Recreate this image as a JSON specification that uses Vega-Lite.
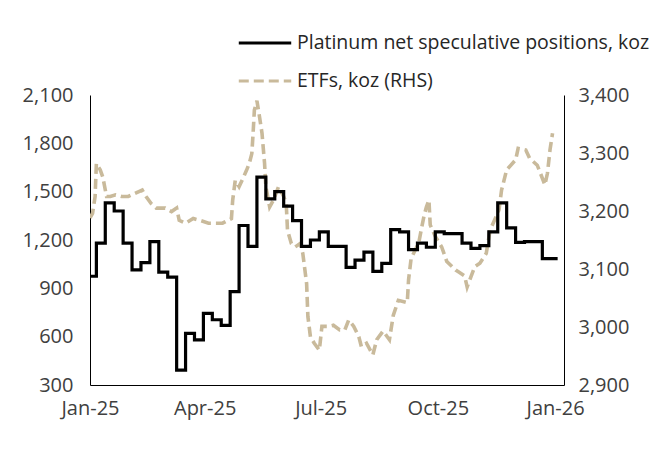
{
  "$schema": "https://vega.github.io/schema/vega-lite/v6.json",
  "width": 474,
  "height": 290,
  "autosize": {"type": "none"},
  "padding": {"left": 90, "top": 95, "right": 100, "bottom": 69},
  "background": "white",
  "config": {
    "view": {"stroke": null},
    "font": "Open Sans",
    "axis": {
      "grid": false,
      "ticks": false,
      "domainColor": "#000000",
      "domainWidth": 1,
      "labelFont": "Open Sans",
      "labelFontSize": 20,
      "labelColor": "#404040",
      "title": null
    },
    "legend": {
      "orient": "none",
      "legendX": 147,
      "legendY": -80,
      "title": null,
      "symbolType": "stroke",
      "symbolSize": 2750,
      "symbolStrokeWidth": 3.2,
      "labelFont": "Open Sans",
      "labelFontSize": 19.5,
      "labelColor": "#262626",
      "labelLimit": 500,
      "labelOffset": 4,
      "rowPadding": -1,
      "padding": 0
    }
  },
  "datasets": {
    "spec": [
      {"date": "2025-01-01T00:00:00", "series": "Platinum net speculative positions, koz", "koz": 975},
      {"date": "2025-01-06T00:00:00", "series": "Platinum net speculative positions, koz", "koz": 1180},
      {"date": "2025-01-13T00:00:00", "series": "Platinum net speculative positions, koz", "koz": 1430},
      {"date": "2025-01-20T00:00:00", "series": "Platinum net speculative positions, koz", "koz": 1380},
      {"date": "2025-01-27T00:00:00", "series": "Platinum net speculative positions, koz", "koz": 1180},
      {"date": "2025-02-03T00:00:00", "series": "Platinum net speculative positions, koz", "koz": 1015},
      {"date": "2025-02-10T00:00:00", "series": "Platinum net speculative positions, koz", "koz": 1060},
      {"date": "2025-02-17T00:00:00", "series": "Platinum net speculative positions, koz", "koz": 1190},
      {"date": "2025-02-24T00:00:00", "series": "Platinum net speculative positions, koz", "koz": 1000},
      {"date": "2025-03-03T00:00:00", "series": "Platinum net speculative positions, koz", "koz": 970},
      {"date": "2025-03-10T00:00:00", "series": "Platinum net speculative positions, koz", "koz": 392},
      {"date": "2025-03-17T00:00:00", "series": "Platinum net speculative positions, koz", "koz": 620},
      {"date": "2025-03-24T00:00:00", "series": "Platinum net speculative positions, koz", "koz": 580},
      {"date": "2025-03-31T00:00:00", "series": "Platinum net speculative positions, koz", "koz": 745},
      {"date": "2025-04-07T00:00:00", "series": "Platinum net speculative positions, koz", "koz": 705},
      {"date": "2025-04-14T00:00:00", "series": "Platinum net speculative positions, koz", "koz": 670},
      {"date": "2025-04-21T00:00:00", "series": "Platinum net speculative positions, koz", "koz": 880},
      {"date": "2025-04-28T00:00:00", "series": "Platinum net speculative positions, koz", "koz": 1290},
      {"date": "2025-05-05T00:00:00", "series": "Platinum net speculative positions, koz", "koz": 1160},
      {"date": "2025-05-12T00:00:00", "series": "Platinum net speculative positions, koz", "koz": 1590},
      {"date": "2025-05-19T00:00:00", "series": "Platinum net speculative positions, koz", "koz": 1455},
      {"date": "2025-05-26T00:00:00", "series": "Platinum net speculative positions, koz", "koz": 1500},
      {"date": "2025-06-02T00:00:00", "series": "Platinum net speculative positions, koz", "koz": 1410},
      {"date": "2025-06-09T00:00:00", "series": "Platinum net speculative positions, koz", "koz": 1320},
      {"date": "2025-06-16T00:00:00", "series": "Platinum net speculative positions, koz", "koz": 1160},
      {"date": "2025-06-23T00:00:00", "series": "Platinum net speculative positions, koz", "koz": 1200},
      {"date": "2025-06-30T00:00:00", "series": "Platinum net speculative positions, koz", "koz": 1250},
      {"date": "2025-07-07T00:00:00", "series": "Platinum net speculative positions, koz", "koz": 1160},
      {"date": "2025-07-14T00:00:00", "series": "Platinum net speculative positions, koz", "koz": 1160},
      {"date": "2025-07-21T00:00:00", "series": "Platinum net speculative positions, koz", "koz": 1030},
      {"date": "2025-07-28T00:00:00", "series": "Platinum net speculative positions, koz", "koz": 1075},
      {"date": "2025-08-04T00:00:00", "series": "Platinum net speculative positions, koz", "koz": 1125},
      {"date": "2025-08-11T00:00:00", "series": "Platinum net speculative positions, koz", "koz": 1005},
      {"date": "2025-08-18T00:00:00", "series": "Platinum net speculative positions, koz", "koz": 1055},
      {"date": "2025-08-25T00:00:00", "series": "Platinum net speculative positions, koz", "koz": 1265},
      {"date": "2025-09-01T00:00:00", "series": "Platinum net speculative positions, koz", "koz": 1250},
      {"date": "2025-09-08T00:00:00", "series": "Platinum net speculative positions, koz", "koz": 1140},
      {"date": "2025-09-15T00:00:00", "series": "Platinum net speculative positions, koz", "koz": 1180},
      {"date": "2025-09-22T00:00:00", "series": "Platinum net speculative positions, koz", "koz": 1155},
      {"date": "2025-09-29T00:00:00", "series": "Platinum net speculative positions, koz", "koz": 1250},
      {"date": "2025-10-06T00:00:00", "series": "Platinum net speculative positions, koz", "koz": 1240},
      {"date": "2025-10-13T00:00:00", "series": "Platinum net speculative positions, koz", "koz": 1240},
      {"date": "2025-10-20T00:00:00", "series": "Platinum net speculative positions, koz", "koz": 1180},
      {"date": "2025-10-27T00:00:00", "series": "Platinum net speculative positions, koz", "koz": 1148},
      {"date": "2025-11-03T00:00:00", "series": "Platinum net speculative positions, koz", "koz": 1165},
      {"date": "2025-11-10T00:00:00", "series": "Platinum net speculative positions, koz", "koz": 1250},
      {"date": "2025-11-17T00:00:00", "series": "Platinum net speculative positions, koz", "koz": 1430},
      {"date": "2025-11-24T00:00:00", "series": "Platinum net speculative positions, koz", "koz": 1275},
      {"date": "2025-12-01T00:00:00", "series": "Platinum net speculative positions, koz", "koz": 1185},
      {"date": "2025-12-08T00:00:00", "series": "Platinum net speculative positions, koz", "koz": 1190},
      {"date": "2025-12-15T00:00:00", "series": "Platinum net speculative positions, koz", "koz": 1190},
      {"date": "2025-12-22T00:00:00", "series": "Platinum net speculative positions, koz", "koz": 1085},
      {"date": "2025-12-29T00:00:00", "series": "Platinum net speculative positions, koz", "koz": 1085},
      {"date": "2026-01-03T00:00:00", "series": "Platinum net speculative positions, koz", "koz": 1085}
    ],
    "etf": [
      {"date": "2025-01-01T00:00:00", "series": "ETFs, koz (RHS)", "koz": 3188},
      {"date": "2025-01-03T00:00:00", "series": "ETFs, koz (RHS)", "koz": 3196},
      {"date": "2025-01-05T00:00:00", "series": "ETFs, koz (RHS)", "koz": 3225},
      {"date": "2025-01-06T00:00:00", "series": "ETFs, koz (RHS)", "koz": 3282},
      {"date": "2025-01-09T00:00:00", "series": "ETFs, koz (RHS)", "koz": 3271},
      {"date": "2025-01-11T00:00:00", "series": "ETFs, koz (RHS)", "koz": 3259},
      {"date": "2025-01-14T00:00:00", "series": "ETFs, koz (RHS)", "koz": 3225},
      {"date": "2025-01-17T00:00:00", "series": "ETFs, koz (RHS)", "koz": 3225},
      {"date": "2025-01-21T00:00:00", "series": "ETFs, koz (RHS)", "koz": 3228},
      {"date": "2025-01-26T00:00:00", "series": "ETFs, koz (RHS)", "koz": 3225},
      {"date": "2025-01-31T00:00:00", "series": "ETFs, koz (RHS)", "koz": 3225},
      {"date": "2025-02-05T00:00:00", "series": "ETFs, koz (RHS)", "koz": 3230},
      {"date": "2025-02-11T00:00:00", "series": "ETFs, koz (RHS)", "koz": 3236},
      {"date": "2025-02-14T00:00:00", "series": "ETFs, koz (RHS)", "koz": 3225},
      {"date": "2025-02-18T00:00:00", "series": "ETFs, koz (RHS)", "koz": 3213},
      {"date": "2025-02-22T00:00:00", "series": "ETFs, koz (RHS)", "koz": 3205},
      {"date": "2025-03-01T00:00:00", "series": "ETFs, koz (RHS)", "koz": 3205},
      {"date": "2025-03-06T00:00:00", "series": "ETFs, koz (RHS)", "koz": 3199},
      {"date": "2025-03-10T00:00:00", "series": "ETFs, koz (RHS)", "koz": 3205},
      {"date": "2025-03-12T00:00:00", "series": "ETFs, koz (RHS)", "koz": 3184},
      {"date": "2025-03-17T00:00:00", "series": "ETFs, koz (RHS)", "koz": 3179},
      {"date": "2025-03-23T00:00:00", "series": "ETFs, koz (RHS)", "koz": 3187},
      {"date": "2025-03-28T00:00:00", "series": "ETFs, koz (RHS)", "koz": 3184},
      {"date": "2025-04-04T00:00:00", "series": "ETFs, koz (RHS)", "koz": 3179},
      {"date": "2025-04-09T00:00:00", "series": "ETFs, koz (RHS)", "koz": 3179},
      {"date": "2025-04-15T00:00:00", "series": "ETFs, koz (RHS)", "koz": 3179},
      {"date": "2025-04-22T00:00:00", "series": "ETFs, koz (RHS)", "koz": 3187},
      {"date": "2025-04-23T00:00:00", "series": "ETFs, koz (RHS)", "koz": 3219},
      {"date": "2025-04-25T00:00:00", "series": "ETFs, koz (RHS)", "koz": 3253},
      {"date": "2025-04-28T00:00:00", "series": "ETFs, koz (RHS)", "koz": 3242},
      {"date": "2025-05-01T00:00:00", "series": "ETFs, koz (RHS)", "koz": 3256},
      {"date": "2025-05-04T00:00:00", "series": "ETFs, koz (RHS)", "koz": 3271},
      {"date": "2025-05-06T00:00:00", "series": "ETFs, koz (RHS)", "koz": 3282},
      {"date": "2025-05-08T00:00:00", "series": "ETFs, koz (RHS)", "koz": 3299},
      {"date": "2025-05-09T00:00:00", "series": "ETFs, koz (RHS)", "koz": 3334},
      {"date": "2025-05-10T00:00:00", "series": "ETFs, koz (RHS)", "koz": 3374},
      {"date": "2025-05-12T00:00:00", "series": "ETFs, koz (RHS)", "koz": 3390},
      {"date": "2025-05-14T00:00:00", "series": "ETFs, koz (RHS)", "koz": 3363},
      {"date": "2025-05-16T00:00:00", "series": "ETFs, koz (RHS)", "koz": 3334},
      {"date": "2025-05-18T00:00:00", "series": "ETFs, koz (RHS)", "koz": 3282},
      {"date": "2025-05-19T00:00:00", "series": "ETFs, koz (RHS)", "koz": 3242},
      {"date": "2025-05-21T00:00:00", "series": "ETFs, koz (RHS)", "koz": 3219},
      {"date": "2025-05-22T00:00:00", "series": "ETFs, koz (RHS)", "koz": 3207},
      {"date": "2025-05-25T00:00:00", "series": "ETFs, koz (RHS)", "koz": 3219},
      {"date": "2025-05-29T00:00:00", "series": "ETFs, koz (RHS)", "koz": 3242},
      {"date": "2025-06-02T00:00:00", "series": "ETFs, koz (RHS)", "koz": 3225},
      {"date": "2025-06-04T00:00:00", "series": "ETFs, koz (RHS)", "koz": 3213},
      {"date": "2025-06-05T00:00:00", "series": "ETFs, koz (RHS)", "koz": 3167},
      {"date": "2025-06-08T00:00:00", "series": "ETFs, koz (RHS)", "koz": 3144},
      {"date": "2025-06-11T00:00:00", "series": "ETFs, koz (RHS)", "koz": 3138},
      {"date": "2025-06-15T00:00:00", "series": "ETFs, koz (RHS)", "koz": 3144},
      {"date": "2025-06-17T00:00:00", "series": "ETFs, koz (RHS)", "koz": 3127},
      {"date": "2025-06-20T00:00:00", "series": "ETFs, koz (RHS)", "koz": 3075},
      {"date": "2025-06-21T00:00:00", "series": "ETFs, koz (RHS)", "koz": 3018},
      {"date": "2025-06-23T00:00:00", "series": "ETFs, koz (RHS)", "koz": 2983},
      {"date": "2025-06-26T00:00:00", "series": "ETFs, koz (RHS)", "koz": 2972},
      {"date": "2025-06-30T00:00:00", "series": "ETFs, koz (RHS)", "koz": 2960},
      {"date": "2025-07-02T00:00:00", "series": "ETFs, koz (RHS)", "koz": 3001},
      {"date": "2025-07-07T00:00:00", "series": "ETFs, koz (RHS)", "koz": 3001},
      {"date": "2025-07-11T00:00:00", "series": "ETFs, koz (RHS)", "koz": 3003},
      {"date": "2025-07-16T00:00:00", "series": "ETFs, koz (RHS)", "koz": 2995},
      {"date": "2025-07-20T00:00:00", "series": "ETFs, koz (RHS)", "koz": 2995},
      {"date": "2025-07-23T00:00:00", "series": "ETFs, koz (RHS)", "koz": 3012},
      {"date": "2025-07-27T00:00:00", "series": "ETFs, koz (RHS)", "koz": 3001},
      {"date": "2025-07-31T00:00:00", "series": "ETFs, koz (RHS)", "koz": 2983},
      {"date": "2025-08-02T00:00:00", "series": "ETFs, koz (RHS)", "koz": 2966},
      {"date": "2025-08-06T00:00:00", "series": "ETFs, koz (RHS)", "koz": 2972},
      {"date": "2025-08-11T00:00:00", "series": "ETFs, koz (RHS)", "koz": 2952},
      {"date": "2025-08-14T00:00:00", "series": "ETFs, koz (RHS)", "koz": 2978},
      {"date": "2025-08-19T00:00:00", "series": "ETFs, koz (RHS)", "koz": 2993},
      {"date": "2025-08-24T00:00:00", "series": "ETFs, koz (RHS)", "koz": 2978},
      {"date": "2025-08-27T00:00:00", "series": "ETFs, koz (RHS)", "koz": 3020},
      {"date": "2025-08-31T00:00:00", "series": "ETFs, koz (RHS)", "koz": 3046},
      {"date": "2025-09-07T00:00:00", "series": "ETFs, koz (RHS)", "koz": 3042},
      {"date": "2025-09-08T00:00:00", "series": "ETFs, koz (RHS)", "koz": 3081},
      {"date": "2025-09-10T00:00:00", "series": "ETFs, koz (RHS)", "koz": 3118},
      {"date": "2025-09-16T00:00:00", "series": "ETFs, koz (RHS)", "koz": 3145},
      {"date": "2025-09-18T00:00:00", "series": "ETFs, koz (RHS)", "koz": 3168},
      {"date": "2025-09-20T00:00:00", "series": "ETFs, koz (RHS)", "koz": 3190},
      {"date": "2025-09-22T00:00:00", "series": "ETFs, koz (RHS)", "koz": 3207},
      {"date": "2025-09-24T00:00:00", "series": "ETFs, koz (RHS)", "koz": 3219},
      {"date": "2025-09-25T00:00:00", "series": "ETFs, koz (RHS)", "koz": 3176},
      {"date": "2025-09-29T00:00:00", "series": "ETFs, koz (RHS)", "koz": 3156},
      {"date": "2025-10-04T00:00:00", "series": "ETFs, koz (RHS)", "koz": 3138},
      {"date": "2025-10-08T00:00:00", "series": "ETFs, koz (RHS)", "koz": 3113},
      {"date": "2025-10-15T00:00:00", "series": "ETFs, koz (RHS)", "koz": 3098},
      {"date": "2025-10-18T00:00:00", "series": "ETFs, koz (RHS)", "koz": 3094},
      {"date": "2025-10-22T00:00:00", "series": "ETFs, koz (RHS)", "koz": 3088},
      {"date": "2025-10-24T00:00:00", "series": "ETFs, koz (RHS)", "koz": 3069},
      {"date": "2025-10-26T00:00:00", "series": "ETFs, koz (RHS)", "koz": 3081},
      {"date": "2025-10-30T00:00:00", "series": "ETFs, koz (RHS)", "koz": 3104},
      {"date": "2025-11-03T00:00:00", "series": "ETFs, koz (RHS)", "koz": 3110},
      {"date": "2025-11-08T00:00:00", "series": "ETFs, koz (RHS)", "koz": 3127},
      {"date": "2025-11-11T00:00:00", "series": "ETFs, koz (RHS)", "koz": 3167},
      {"date": "2025-11-14T00:00:00", "series": "ETFs, koz (RHS)", "koz": 3182},
      {"date": "2025-11-18T00:00:00", "series": "ETFs, koz (RHS)", "koz": 3202},
      {"date": "2025-11-20T00:00:00", "series": "ETFs, koz (RHS)", "koz": 3236},
      {"date": "2025-11-24T00:00:00", "series": "ETFs, koz (RHS)", "koz": 3271},
      {"date": "2025-12-01T00:00:00", "series": "ETFs, koz (RHS)", "koz": 3288},
      {"date": "2025-12-03T00:00:00", "series": "ETFs, koz (RHS)", "koz": 3308},
      {"date": "2025-12-09T00:00:00", "series": "ETFs, koz (RHS)", "koz": 3305},
      {"date": "2025-12-12T00:00:00", "series": "ETFs, koz (RHS)", "koz": 3291},
      {"date": "2025-12-18T00:00:00", "series": "ETFs, koz (RHS)", "koz": 3279},
      {"date": "2025-12-20T00:00:00", "series": "ETFs, koz (RHS)", "koz": 3268},
      {"date": "2025-12-24T00:00:00", "series": "ETFs, koz (RHS)", "koz": 3245},
      {"date": "2025-12-26T00:00:00", "series": "ETFs, koz (RHS)", "koz": 3265},
      {"date": "2025-12-28T00:00:00", "series": "ETFs, koz (RHS)", "koz": 3305},
      {"date": "2025-12-30T00:00:00", "series": "ETFs, koz (RHS)", "koz": 3334}
    ]
  },
  "encoding": {
    "x": {
      "field": "date",
      "type": "temporal",
      "scale": {"domain": [{"year": 2025, "month": 1, "date": 1}, {"year": 2026, "month": 1, "date": 8}]},
      "axis": {
        "values": [
          {"year": 2025, "month": 1, "date": 1},
          {"year": 2025, "month": 4, "date": 1},
          {"year": 2025, "month": 7, "date": 1},
          {"year": 2025, "month": 10, "date": 1},
          {"year": 2026, "month": 1, "date": 1}
        ],
        "format": "%b-%y",
        "labelPadding": 13,
        "labelFlush": false,
        "labelOverlap": false
      }
    },
    "color": {
      "field": "series",
      "type": "nominal",
      "scale": {
        "domain": ["Platinum net speculative positions, koz", "ETFs, koz (RHS)"],
        "range": ["#000000", "#c9ba9b"]
      }
    },
    "strokeDash": {
      "field": "series",
      "type": "nominal",
      "scale": {
        "domain": ["Platinum net speculative positions, koz", "ETFs, koz (RHS)"],
        "range": [[1, 0], [10, 5]]
      }
    }
  },
  "layer": [
    {
      "data": {"name": "etf"},
      "mark": {"type": "line", "strokeWidth": 3.6, "clip": true},
      "encoding": {
        "y": {
          "field": "koz",
          "type": "quantitative",
          "scale": {"domain": [2900, 3400], "zero": false},
          "axis": {
            "orient": "right",
            "values": [2900, 3000, 3100, 3200, 3300, 3400],
            "format": ",.0f",
            "labelPadding": 14
          }
        }
      }
    },
    {
      "data": {"name": "spec"},
      "mark": {"type": "line", "interpolate": "step-after", "strokeWidth": 3.2, "clip": true},
      "encoding": {
        "y": {
          "field": "koz",
          "type": "quantitative",
          "scale": {"domain": [300, 2100], "zero": false},
          "axis": {
            "orient": "left",
            "values": [300, 600, 900, 1200, 1500, 1800, 2100],
            "format": ",.0f",
            "labelPadding": 17
          }
        }
      }
    }
  ],
  "resolve": {"scale": {"y": "independent"}}
}
